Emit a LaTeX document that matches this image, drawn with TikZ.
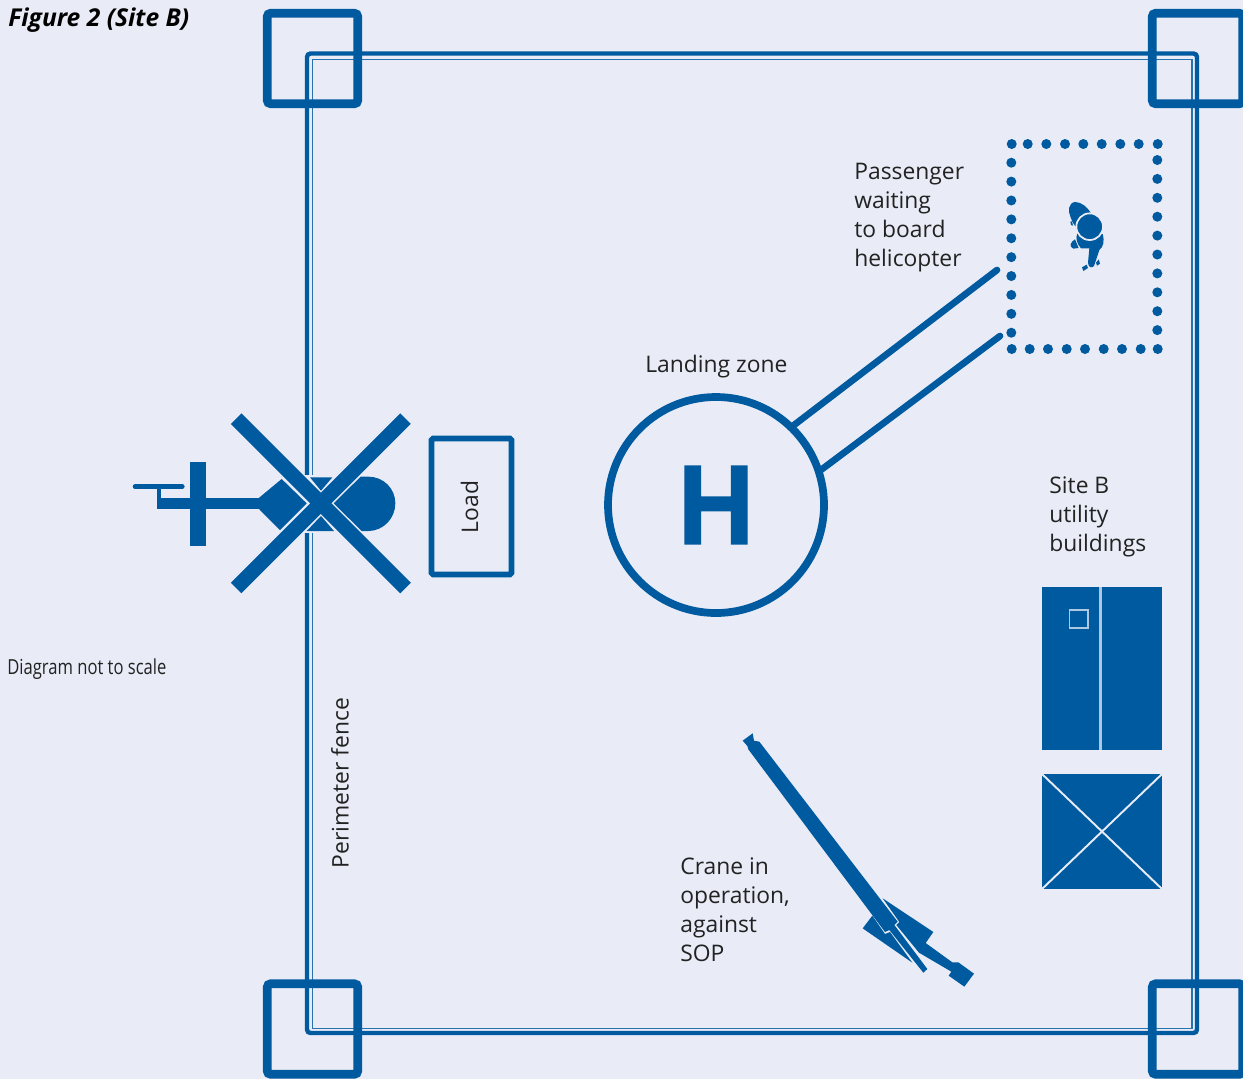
\documentclass[tikz,border=0pt]{standalone}
\usepackage{fontspec}
\usepackage{xcolor}
\usetikzlibrary{positioning}
\setmainfont{Open Sans}
\newfontfamily\narrowfont[FakeStretch=0.8]{Open Sans}
\newfontfamily\bigfont[FakeBold=1.5]{Liberation Sans Bold}
\definecolor{siteblue}{HTML}{005A9F}
\definecolor{sitebg}{HTML}{E9ECF7}
\definecolor{sitetext}{HTML}{222222}

\begin{document}
\begin{tikzpicture}[
    x=0.02cm,y=-0.02cm,
    every node/.style={text=sitetext, font=\fontsize{13}{16.5}\selectfont},
    label text/.style={align=left, anchor=north west, inner sep=0pt},
    corner box/.style={draw=siteblue, line width=5pt, rounded corners=2pt, minimum size=90.5*0.02cm, outer sep=0pt},
    dot/.style={fill=siteblue, circle, inner sep=0pt, minimum size=10*0.02cm},
    fence outer/.style={draw=siteblue, line width=2.5pt, rounded corners=2pt},
    fence inner/.style={draw=siteblue!85!white, line width=0.8pt},
    rotor blade/.style={draw=siteblue, line width=8.5pt},
    path line/.style={draw=siteblue, line width=3.8pt, line cap=round},
    blue part/.style={fill=siteblue}
]
    \useasboundingbox (0,0) rectangle (1243,1079);
    \fill[sitebg] (0,0) rectangle (1243,1079);

    \draw[fence outer] (307,53.5) rectangle (1197,1033);
    \draw[fence inner] (312.5,59.5) rectangle (1192,1028.5);
    \fill[sitebg] (303,475) rectangle (318,533);

    \node[corner box] (cornerTL) at (312.5,58.5)  {};
    \node[corner box] (cornerTR) at (1197.5,58.5) {};
    \node[corner box] (cornerBL) at (312.5,1029)  {};
    \node[corner box] (cornerBR) at (1197.5,1029) {};

    \node[label text, font=\bfseries\itshape\fontsize{14}{17}\selectfont, text=black] (title) at (8,7) {Figure 2 (Site B)};
    \node[label text, font=\narrowfont\fontsize{11.8}{14}\selectfont] (scalenote) at (7,658) {Diagram not to scale};
    \node[label text] (passenger) at (854,163) {Passenger\\waiting\\to board\\helicopter};
    \node[label text] (zonelabel) at (645,355) {Landing zone};
    \node[label text] (sitelabel) at (1049,476) {Site B\\utility\\buildings};
    \node[label text] (cranelabel) at (680,857) {Crane in\\operation,\\against\\SOP};
    \node[rotate=90, inner sep=0pt] (fencelabel) at (340,783) {Perimeter fence};

    \node[draw=siteblue, line width=3.3pt, minimum width=80*0.02cm, minimum height=136*0.02cm, rounded corners=1pt] (load) at (471.5,506.5) {};
    \node[rotate=90, inner sep=0pt] (loadlabel) at (469.5,507) {Load};

    \node[draw=siteblue, circle, line width=4.4pt, minimum size=216*0.02cm, inner sep=0pt, outer sep=0pt,
          text=siteblue, font=\bigfont\fontsize{64}{64}\selectfont] (lz) at (716,505) {\scalebox{.93}[1]{H}};
    \coordinate (gateA) at (997,270);
    \coordinate (gateB) at (1000,336);
    \draw[path line] (lz.46) -- (gateA);
    \draw[path line] (lz.18) -- (gateB);

    \foreach \x/\i in {1011.7/a,1027.7/b,1046.3/c,1065/d,1083.3/e,1101.7/f,1120.3/g,1138.7/h,1157.7/i}
        \node[dot] (dotT\i) at (\x,144) {};
    \foreach \x/\i in {1011.7/a,1029.7/b,1048/c,1066.7/d,1085/e,1103.7/f,1122/g,1140.7/h,1157.7/i}
        \node[dot] (dotB\i) at (\x,349) {};
    \foreach \i in {0,...,9} {
        \node[dot] (dotL\i) at (1011.3,162.7+18.89*\i) {};
        \node[dot] (dotR\i) at (1157.3,160+18.9*\i) {};
    }

    % passenger
    \begin{scope}[shift={(1000,130)},scale=1/3]
        \fill[blue part] (225,216) .. controls (205,218) and (203,245) .. (212,262) .. controls (218,280) and (225,290) .. (235,295) -- (272,248) .. controls (262,232) and (245,216) .. (225,216) -- cycle;
        \fill[blue part] (232,310) .. controls (226,325) and (230,340) .. (243,355) -- (268,355) -- (264,398) .. controls (265,412) and (275,416) .. (282,408) -- (298,360) .. controls (310,350) and (314,335) .. (308,312) -- cycle;
        \fill[blue part] (225,328) .. controls (212,335) and (205,350) .. (220,356) -- (236,354) -- cycle;
        \fill[blue part] (246,412) -- (260,404) -- (264,414) -- (250,423) -- cycle;
        \fill[blue part] (288,398) -- (296,388) -- (300,401) -- (291,407) -- cycle;
        \fill[blue part] (211,275) -- (216,274) -- (219,287) -- (213,285) -- cycle;
        \draw[fill=siteblue, draw=sitebg, line width=1pt] (269,290) circle (40);
    \end{scope}

    % helicopter
    \begin{scope}[shift={(120,400)},scale=1/3]
        \fill[blue part] (110,295) rectangle (420,328);
        \fill[blue part] (210,186) rectangle (258,438);
        \fill[blue part] (110,262) rectangle (122,300);
        \draw[siteblue, line width=2.6pt, line cap=round] (45,260) -- (187,260);
        \fill[blue part] (415,295) -- (485,237) -- (560,310) -- (480,390) -- (418,328) -- cycle;
        \fill[blue part] (641,310) -- (722,230) -- (745,230) .. controls (790,230) and (826,265) .. (826,310) .. controls (826,355) and (790,393) .. (745,393) -- (725,393) -- cycle;
        \fill[blue part] (570,232) -- (637,232) -- (603,272) -- cycle;
        \fill[blue part] (603,348) -- (642,393) -- (560,393) -- cycle;
        \draw[rotor blade] (348.5,56) -- (856.5,564);
        \draw[rotor blade] (856.5,56) -- (348.5,564);
    \end{scope}

    % crane
    \begin{scope}[shift={(730,720)},scale=1/3]
        \fill[blue part] (38,62) -- (68,40) -- (72,62) -- (88,65) -- (503,605) -- (493,615) -- (592,747) -- (580,758) -- (478,630) -- (465,636) -- (55,88) -- (52,78) -- cycle;
        \fill[blue part] (427,587) -- (398,625) -- (547,728) -- (480,636) -- (465,642) -- cycle;
        \fill[blue part] (458,535) -- (610,636) -- (587,669) -- (667,727) -- (685,727) -- (732,761) -- (703,800) -- (656,767) -- (664,755) -- (567,698) -- (499,615) -- (508,606) -- cycle;
    \end{scope}

    % buildings
    \fill[blue part] (1042,587) rectangle (1162,750);
    \draw[sitebg!75!siteblue, line width=1.7pt] (1100.7,587) -- (1100.7,750);
    \draw[sitebg!75!siteblue, line width=0.9pt] (1069.5,610) rectangle (1088,628);
    \fill[blue part] (1042,774) rectangle (1162,889);
    \draw[sitebg, line width=1.1pt] (1042,774) -- (1162,889);
    \draw[sitebg, line width=1.1pt] (1162,774) -- (1042,889);
\end{tikzpicture}
\end{document}
